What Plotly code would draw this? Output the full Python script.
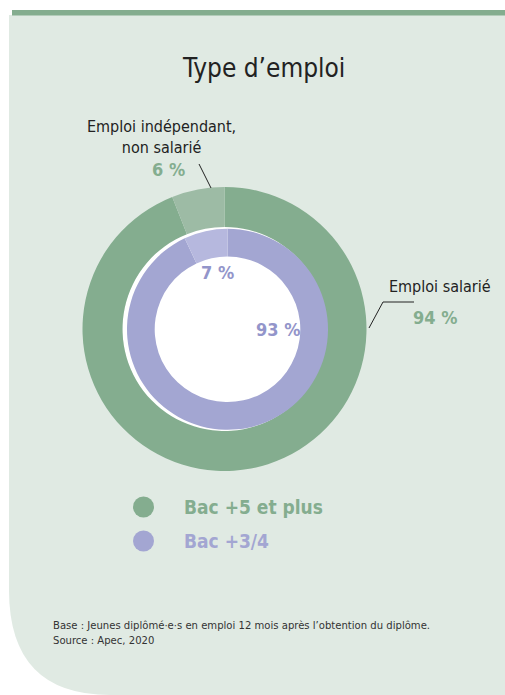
import plotly.graph_objects as go

W, H = 505, 695

# données
types_emploi = ['Emploi salarié', 'Emploi indépendant, non salarié']
bac5_vals = [94, 6]
bac34_vals = [93, 7]
niveaux = ['Bac +5 et plus', 'Bac +3/4']

vert = '#84AD8F'
vert_clair = '#9DBBA5'
violet = '#A3A6D2'
violet_clair = '#B6B8DE'
violet_txt = '#9395CA'
fond = '#E0EAE3'
police = 'Liberation Sans Narrow, DejaVu Sans Condensed, sans-serif'


def px(x):
    return x / W


def py(y):
    return 1 - y / H


fig = go.Figure()

# anneau extérieur : Bac +5 et plus
fig.add_trace(go.Pie(
    labels=types_emploi, values=bac5_vals, name=niveaux[0],
    sort=False, direction='clockwise', rotation=0,
    hole=102 / 142,
    marker=dict(colors=[vert, vert_clair], line=dict(width=0)),
    textinfo='none', hoverinfo='label+value',
    domain=dict(x=[px(82.5), px(366.5)], y=[py(471), py(187)]),
    showlegend=False
))

# anneau intérieur : Bac +3/4
fig.add_trace(go.Pie(
    labels=types_emploi, values=bac34_vals, name=niveaux[1],
    sort=False, direction='clockwise', rotation=0,
    hole=72.8 / 100.5,
    marker=dict(colors=[violet, violet_clair], line=dict(width=0)),
    textinfo='none', hoverinfo='label+value',
    domain=dict(x=[px(127), px(328)], y=[py(429.8), py(228.8)]),
    showlegend=False
))

shapes = [
    # panneau de fond avec coin arrondi en bas à gauche
    dict(type='path', xref='paper', yref='paper', layer='below',
         path=f'M {px(9)},{py(15)} L 1,{py(15)} L 1,0 L {px(110)},0 '
              f'Q {px(9)},0 {px(9)},{py(590)} Z',
         fillcolor=fond, line=dict(width=0)),
    # barre verte en haut
    dict(type='rect', xref='paper', yref='paper', layer='below',
         x0=px(12), x1=1, y0=py(15.5), y1=py(10),
         fillcolor=vert, line=dict(width=0)),
    # disque blanc central
    dict(type='circle', xref='paper', yref='paper', layer='below',
         x0=px(122.5), x1=px(331), y0=py(433.5), y1=py(225)),
    # traits de rappel
    dict(type='line', xref='paper', yref='paper',
         x0=px(199), y0=py(164), x1=px(211), y1=py(188),
         line=dict(color='#222', width=1)),
    dict(type='path', xref='paper', yref='paper',
         path=f'M {px(369)},{py(328)} L {px(383)},{py(302)} L {px(414)},{py(302)}',
         line=dict(color='#222', width=1)),
]
shapes[2].update(fillcolor='white', line=dict(width=0))

# puces de la légende
for i, c in enumerate([vert, violet]):
    yc = 507 + 34 * i
    shapes.append(dict(type='circle', xref='paper', yref='paper',
                       x0=px(133), x1=px(154), y0=py(yc + 10.5), y1=py(yc - 10.5),
                       fillcolor=c, line=dict(width=0)))

annotations = [
    dict(text='Type d’emploi', x=px(263), y=py(68), font=dict(size=26, color='#222')),
    dict(text='Emploi indépendant,<br>non salarié', x=px(161), y=py(137),
         font=dict(size=16, color='#222')),
    dict(text=f'<b>{bac5_vals[1]} %</b>', x=px(168), y=py(169), font=dict(size=18, color=vert)),
    dict(text='Emploi salarié', x=px(440), y=py(287), font=dict(size=16, color='#222')),
    dict(text=f'<b>{bac5_vals[0]} %</b>', x=px(435), y=py(317), font=dict(size=18, color=vert)),
    dict(text=f'<b>{bac34_vals[1]} %</b>', x=px(217), y=py(273), font=dict(size=18, color=violet_txt)),
    dict(text=f'<b>{bac34_vals[0]} %</b>', x=px(278), y=py(330), font=dict(size=18, color=violet_txt)),
    dict(text='Base : Jeunes diplômé·e·s en emploi 12 mois après l’obtention du diplôme.<br>'
              'Source : Apec, 2020',
         x=px(51), y=py(633), xanchor='left', align='left',
         font=dict(size=11.2, color='#333')),
]
for i, (nom, c) in enumerate(zip(niveaux, [vert, violet])):
    annotations.append(dict(text=f'<b>{nom}</b>', x=px(182), y=py(507 + 34 * i),
                            xanchor='left', font=dict(size=19, color=c)))

for a in annotations:
    a.update(xref='paper', yref='paper', showarrow=False)
    a.setdefault('xanchor', 'center')
    a['yanchor'] = 'middle'

fig.update_layout(
    width=W, height=H,
    margin=dict(l=0, r=0, t=0, b=0),
    paper_bgcolor='white',
    plot_bgcolor='white',
    font=dict(family=police, color='#222'),
    shapes=shapes,
    annotations=annotations,
)

fig.write_html("out.html",
               config={'displayModeBar': False},
               post_script="document.body.style.margin='0';"
                           "document.body.style.overflow='hidden';")
